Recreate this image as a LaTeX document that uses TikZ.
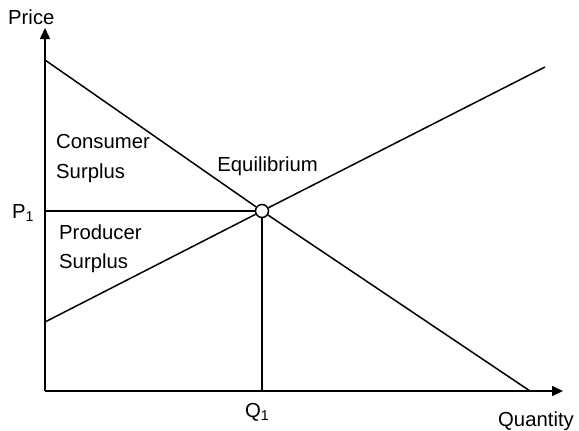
\documentclass[tikz,border=0pt]{standalone}
\usepackage{fontspec}
\setmainfont{Liberation Sans}
\usetikzlibrary{arrows.meta}
\begin{document}
\begin{tikzpicture}[x=1pt,y=-1pt,
  curve/.style={line width=1.5pt,black},
  axis/.style={line width=1.5pt,-{Triangle[length=11pt,width=10pt]}},
  lbl/.style={font=\fontsize{20.3}{24}\selectfont,inner sep=0pt,anchor=base west}]
\useasboundingbox (0,0) rectangle (579,431);
\coordinate (O) at (45,391);
\coordinate (ytop) at (45,28);
\coordinate (xend) at (563,391);
\coordinate (d0) at (45,60);
\coordinate (d1) at (530,391);
\coordinate (s0) at (45,322);
\coordinate (s1) at (545,67);
\coordinate (p1) at (45,211);
\coordinate (q1) at (262,391);
\node[draw,circle,line width=1.5pt,minimum size=13pt,inner sep=0pt,fill=white] (E) at (262,211) {};
\draw[axis] (O) -- (ytop);
\draw[axis] (O) -- (xend);
\draw[curve] (d0) -- (E);
\draw[curve] (E) -- (d1);
\draw[curve] (s0) -- (E);
\draw[curve] (E) -- (s1);
\draw[curve] (p1) -- (E.west);
\draw[curve] (E.south) -- (q1);
\node[lbl] (price) at (8,24) {Price};
\node[lbl] (quant) at (498,426) {Quantity};
\node[lbl] (P1) at (12,218) {P\textsubscript{1}};
\node[lbl] (Q1) at (245,417) {Q\textsubscript{1}};
\node[lbl] (cs1) at (56,148) {Consumer};
\node[lbl] (cs2) at (56,178) {Surplus};
\node[lbl] (ps1) at (59,239) {Producer};
\node[lbl] (ps2) at (59,268) {Surplus};
\node[lbl,anchor=base east] (eq) at (318,171) {Equilibrium};
\end{tikzpicture}
\end{document}
